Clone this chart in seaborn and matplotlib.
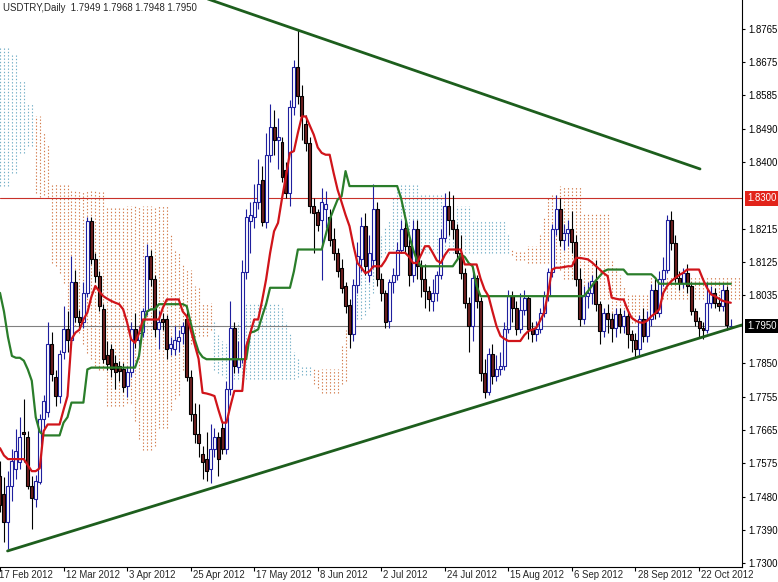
import numpy as np
import pandas as pd
import matplotlib
matplotlib.use("Agg")
import matplotlib.pyplot as plt
import seaborn as sns

header = "USDTRY,Daily  1.7949 1.7968 1.7948 1.7950"

# daily candles, one per trading day starting 17 Feb 2012
opens = [
    1.7540, 1.7489, 1.7412, 1.7511, 1.7557, 1.7576, 1.7659, 1.7645, 1.7511, 1.7475,
    1.7521, 1.7694, 1.7713, 1.7900, 1.7809, 1.7757, 1.7878, 1.7941, 1.7913, 1.8070,
    1.7976, 1.7960, 1.8042, 1.8237, 1.8133, 1.8086, 1.7996, 1.7870, 1.7886, 1.7850,
    1.7840, 1.7831, 1.7785, 1.7823, 1.7941, 1.7913, 1.7935, 1.7990, 1.8141, 1.8078,
    1.7941, 1.7970, 1.7968, 1.7890, 1.7886, 1.7910, 1.7930, 1.7968, 1.7809, 1.7708,
    1.7653, 1.7600, 1.7585, 1.7557, 1.7612, 1.7645, 1.7670, 1.7612, 1.7776, 1.7946,
    1.7837, 1.7859, 1.8097, 1.8237, 1.8250, 1.8290, 1.8350, 1.8235, 1.8420, 1.8497,
    1.8460, 1.8456, 1.8379, 1.8316, 1.8550, 1.8661, 1.8580, 1.8503, 1.8453, 1.8280,
    1.8264, 1.8240, 1.8270, 1.8250, 1.8190, 1.8150, 1.8110, 1.8060, 1.8009, 1.7927,
    1.8064, 1.8133, 1.8224, 1.8090, 1.8130, 1.8270, 1.8078, 1.8042, 1.7963, 1.8070,
    1.8090, 1.8160, 1.8220, 1.8170, 1.8090, 1.8215, 1.8114, 1.8078, 1.8045, 1.8020,
    1.8040, 1.8090, 1.8192, 1.8280, 1.8240, 1.8215, 1.8151, 1.8096, 1.8014, 1.7950,
    1.8083, 1.8018, 1.7822, 1.7768, 1.7873, 1.7813, 1.7831, 1.7840, 1.7941, 1.8032,
    1.8000, 1.7941, 1.7995, 1.8028, 1.7941, 1.7927, 1.7941, 1.7987, 1.8032, 1.8097,
    1.8215, 1.8270, 1.8187, 1.8205, 1.8215, 1.8180, 1.8078, 1.7968, 1.8032, 1.8042,
    1.8073, 1.8010, 1.7936, 1.7987, 1.7968, 1.7945, 1.7982, 1.7950, 1.7977, 1.7927,
    1.7913, 1.7886, 1.7968, 1.7923, 1.7968, 1.8050, 1.7987, 1.8078, 1.8105, 1.8242,
    1.8178, 1.8082, 1.8069, 1.8096, 1.8060, 1.7991, 1.7964, 1.7945, 1.7940, 1.8014,
    1.8042, 1.8014, 1.8005, 1.8050, 1.7949,
]
highs = [
    1.7580, 1.7535, 1.7552, 1.7612, 1.7667, 1.7700, 1.7749, 1.7661, 1.7538, 1.7541,
    1.7708, 1.7760, 1.7960, 1.7933, 1.7830, 1.7885, 1.8004, 1.7990, 1.8141, 1.8105,
    1.7995, 1.8070, 1.8248, 1.8250, 1.8150, 1.8100, 1.8010, 1.7910, 1.7900, 1.7870,
    1.7855, 1.7850, 1.7840, 1.7960, 1.7987, 1.7950, 1.8000, 1.8174, 1.8160, 1.8090,
    1.7990, 1.7985, 1.7980, 1.7920, 1.7950, 1.7940, 1.7960, 1.7990, 1.7830, 1.7740,
    1.7735, 1.7620, 1.7660, 1.7680, 1.7670, 1.7660, 1.7690, 1.7800, 1.8020, 1.7960,
    1.7910, 1.8130, 1.8270, 1.8290, 1.8340, 1.8407, 1.8390, 1.8480, 1.8560, 1.8544,
    1.8520, 1.8470, 1.8400, 1.8570, 1.8680, 1.8765, 1.8610, 1.8530, 1.8470, 1.8300,
    1.8270, 1.8330, 1.8320, 1.8270, 1.8220, 1.8165, 1.8135, 1.8070, 1.8025, 1.8080,
    1.8180, 1.8250, 1.8260, 1.8200, 1.8340, 1.8290, 1.8095, 1.8050, 1.8080, 1.8110,
    1.8180, 1.8240, 1.8240, 1.8190, 1.8240, 1.8240, 1.8130, 1.8120, 1.8060, 1.8080,
    1.8100, 1.8215, 1.8315, 1.8320, 1.8310, 1.8230, 1.8200, 1.8110, 1.8030, 1.8110,
    1.8090, 1.8030, 1.7860, 1.7890, 1.7900, 1.7870, 1.7880, 1.7960, 1.8050, 1.8045,
    1.8020, 1.8040, 1.8050, 1.8035, 1.7960, 1.7965, 1.8000, 1.8045, 1.8110, 1.8230,
    1.8310, 1.8300, 1.8230, 1.8240, 1.8265, 1.8200, 1.8110, 1.8060, 1.8070, 1.8090,
    1.8130, 1.8020, 1.8000, 1.8010, 1.7985, 1.8000, 1.8000, 1.7995, 1.7990, 1.7940,
    1.7930, 1.7980, 1.8000, 1.7990, 1.8065, 1.8080, 1.8100, 1.8140, 1.8255, 1.8265,
    1.8200, 1.8100, 1.8110, 1.8120, 1.8070, 1.8000, 1.7975, 1.7960, 1.8070, 1.8060,
    1.8055, 1.8030, 1.8065, 1.8060, 1.7968,
]
lows = [
    1.7440, 1.7357, 1.7338, 1.7470, 1.7530, 1.7557, 1.7576, 1.7502, 1.7393, 1.7453,
    1.7516, 1.7670, 1.7700, 1.7800, 1.7730, 1.7740, 1.7860, 1.7880, 1.7900, 1.7960,
    1.7940, 1.7945, 1.8030, 1.8120, 1.8070, 1.7990, 1.7850, 1.7830, 1.7810, 1.7776,
    1.7800, 1.7768, 1.7755, 1.7810, 1.7890, 1.7880, 1.7920, 1.7980, 1.8060, 1.7920,
    1.7886, 1.7940, 1.7860, 1.7870, 1.7870, 1.7880, 1.7900, 1.7800, 1.7690, 1.7630,
    1.7590, 1.7530, 1.7525, 1.7520, 1.7590, 1.7540, 1.7600, 1.7600, 1.7760, 1.7820,
    1.7820, 1.7850, 1.8080, 1.8150, 1.8220, 1.8270, 1.8225, 1.8220, 1.8400, 1.8420,
    1.8380, 1.8345, 1.8300, 1.8280, 1.8530, 1.8560, 1.8460, 1.8430, 1.8260, 1.8150,
    1.8210, 1.8075, 1.8220, 1.8170, 1.8130, 1.8085, 1.8040, 1.7985, 1.7890, 1.7910,
    1.8040, 1.8100, 1.8090, 1.8070, 1.8110, 1.8060, 1.8020, 1.7945, 1.7945, 1.8040,
    1.8075, 1.8150, 1.8150, 1.8060, 1.8070, 1.8080, 1.8030, 1.8000, 1.7990, 1.7990,
    1.8020, 1.8080, 1.8180, 1.8200, 1.8190, 1.8130, 1.8080, 1.8000, 1.7880, 1.7910,
    1.8000, 1.7800, 1.7752, 1.7760, 1.7790, 1.7800, 1.7815, 1.7830, 1.7930, 1.7960,
    1.7925, 1.7930, 1.7980, 1.7915, 1.7905, 1.7910, 1.7930, 1.7975, 1.8020, 1.8085,
    1.8200, 1.8170, 1.8160, 1.8170, 1.8150, 1.8060, 1.7950, 1.7955, 1.8000, 1.8010,
    1.7990, 1.7900, 1.7920, 1.7930, 1.7905, 1.7920, 1.7930, 1.7930, 1.7890, 1.7880,
    1.7865, 1.7870, 1.7905, 1.7905, 1.7950, 1.7970, 1.7975, 1.8060, 1.8095, 1.8160,
    1.8070, 1.8050, 1.8055, 1.8040, 1.7980, 1.7950, 1.7920, 1.7915, 1.7930, 1.8000,
    1.8000, 1.7990, 1.7990, 1.7940, 1.7948,
]
closes = [
    1.7460, 1.7412, 1.7511, 1.7579, 1.7606, 1.7645, 1.7653, 1.7511, 1.7478, 1.7524,
    1.7694, 1.7745, 1.7900, 1.7818, 1.7757, 1.7872, 1.7941, 1.7913, 1.8072, 1.7976,
    1.7960, 1.8042, 1.8237, 1.8133, 1.8086, 1.8004, 1.7859, 1.7845, 1.7831, 1.7823,
    1.7826, 1.7782, 1.7823, 1.7941, 1.7913, 1.7930, 1.7990, 1.8141, 1.8078, 1.7941,
    1.7960, 1.7960, 1.7886, 1.7900, 1.7913, 1.7920, 1.7950, 1.7809, 1.7708, 1.7653,
    1.7630, 1.7578, 1.7552, 1.7612, 1.7645, 1.7585, 1.7612, 1.7776, 1.7946, 1.7840,
    1.7859, 1.8097, 1.8250, 1.8255, 1.8290, 1.8340, 1.8235, 1.8420, 1.8497, 1.8461,
    1.8470, 1.8360, 1.8316, 1.8550, 1.8661, 1.8580, 1.8525, 1.8453, 1.8278, 1.8260,
    1.8228, 1.8290, 1.8285, 1.8187, 1.8150, 1.8100, 1.8055, 1.8004, 1.7927, 1.8064,
    1.8141, 1.8224, 1.8114, 1.8150, 1.8270, 1.8078, 1.8042, 1.7960, 1.8070, 1.8090,
    1.8160, 1.8215, 1.8170, 1.8090, 1.8215, 1.8114, 1.8078, 1.8045, 1.8023, 1.8040,
    1.8090, 1.8192, 1.8280, 1.8240, 1.8215, 1.8151, 1.8096, 1.8014, 1.7950, 1.8083,
    1.8018, 1.7822, 1.7768, 1.7873, 1.7813, 1.7831, 1.7840, 1.7941, 1.8032, 1.8000,
    1.7941, 1.7995, 1.8028, 1.7941, 1.7927, 1.7941, 1.7987, 1.8032, 1.8097, 1.8215,
    1.8270, 1.8187, 1.8205, 1.8215, 1.8180, 1.8078, 1.7968, 1.8032, 1.8042, 1.8073,
    1.8010, 1.7936, 1.7987, 1.7968, 1.7945, 1.7982, 1.7950, 1.7977, 1.7927, 1.7913,
    1.7886, 1.7968, 1.7923, 1.7968, 1.8050, 1.7987, 1.8078, 1.8105, 1.8242, 1.8178,
    1.8082, 1.8069, 1.8096, 1.8060, 1.7991, 1.7964, 1.7945, 1.7940, 1.8014, 1.8042,
    1.8014, 1.8005, 1.8050, 1.7952, 1.7950,
]

# ichimoku lines
tenkan = [
    1.7615, 1.7595, 1.7585, 1.7585, 1.7585, 1.7585, 1.7585, 1.7568, 1.7552, 1.7552,
    1.7560, 1.7662, 1.7680, 1.7680, 1.7680, 1.7680, 1.7720, 1.7758, 1.7914, 1.7932,
    1.7940, 1.7968, 1.7987, 1.8030, 1.8060, 1.8045, 1.8032, 1.8025, 1.8019, 1.8014,
    1.8010, 1.7996, 1.7960, 1.7914, 1.7904, 1.7930, 1.7968, 1.7968, 1.7968, 1.7968,
    1.7968, 1.8000, 1.8023, 1.8023, 1.8023, 1.8023, 1.7990, 1.7977, 1.7940, 1.7900,
    1.7860, 1.7767, 1.7765, 1.7762, 1.7758, 1.7720, 1.7685, 1.7685, 1.7730, 1.7772,
    1.7772, 1.7772, 1.7895, 1.7930, 1.7968, 1.7968, 1.8020, 1.8078, 1.8150, 1.8210,
    1.8233, 1.8300, 1.8361, 1.8425, 1.8430, 1.8480, 1.8525, 1.8525, 1.8500, 1.8475,
    1.8440, 1.8425, 1.8420, 1.8420, 1.8370, 1.8324, 1.8290, 1.8255, 1.8224, 1.8170,
    1.8123, 1.8110, 1.8095, 1.8100, 1.8114, 1.8114, 1.8114, 1.8130, 1.8151, 1.8151,
    1.8151, 1.8151, 1.8151, 1.8140, 1.8123, 1.8123, 1.8145, 1.8169, 1.8169, 1.8150,
    1.8130, 1.8123, 1.8145, 1.8160, 1.8160, 1.8160, 1.8160, 1.8119, 1.8119, 1.8119,
    1.8119, 1.8080, 1.8050, 1.8032, 1.7990, 1.7950, 1.7923, 1.7915, 1.7909, 1.7909,
    1.7909, 1.7909, 1.7925, 1.7936, 1.7940, 1.7945, 1.7965, 1.7987, 1.8041, 1.8105,
    1.8110, 1.8110, 1.8112, 1.8114, 1.8114, 1.8137, 1.8137, 1.8135, 1.8133, 1.8125,
    1.8115, 1.8105, 1.8095, 1.8087, 1.8028, 1.8025, 1.8023, 1.8023, 1.7995, 1.7973,
    1.7965, 1.7960, 1.7959, 1.7965, 1.7977, 1.7985, 1.7996, 1.8041, 1.8060, 1.8073,
    1.8082, 1.8090, 1.8096, 1.8105, 1.8105, 1.8105, 1.8105, 1.8078, 1.8055, 1.8037,
    1.8032, 1.8025, 1.8019, 1.8016, 1.8014,
]
kijun = [
    1.8041, 1.7990, 1.7920, 1.7868, 1.7863, 1.7863, 1.7855, 1.7831, 1.7800, 1.7700,
    1.7660, 1.7650, 1.7650, 1.7650, 1.7650, 1.7650, 1.7685, 1.7700, 1.7740, 1.7740,
    1.7740, 1.7740, 1.7831, 1.7836, 1.7836, 1.7836, 1.7836, 1.7836, 1.7836, 1.7836,
    1.7836, 1.7836, 1.7836, 1.7836, 1.7836, 1.7868, 1.7950, 1.7990, 1.7996, 1.7996,
    1.8010, 1.8010, 1.8010, 1.8010, 1.8010, 1.8010, 1.8010, 1.8005, 1.7960, 1.7914,
    1.7880, 1.7865, 1.7859, 1.7859, 1.7859, 1.7859, 1.7859, 1.7859, 1.7859, 1.7859,
    1.7859, 1.7859, 1.7859, 1.7932, 1.7935, 1.7941, 1.7977, 1.8010, 1.8055, 1.8055,
    1.8055, 1.8055, 1.8055, 1.8055, 1.8100, 1.8160, 1.8160, 1.8160, 1.8160, 1.8160,
    1.8160, 1.8160, 1.8200, 1.8242, 1.8270, 1.8297, 1.8306, 1.8375, 1.8334, 1.8334,
    1.8334, 1.8334, 1.8334, 1.8334, 1.8334, 1.8334, 1.8334, 1.8334, 1.8334, 1.8334,
    1.8334, 1.8300, 1.8250, 1.8200, 1.8160, 1.8130, 1.8114, 1.8114, 1.8114, 1.8114,
    1.8114, 1.8114, 1.8114, 1.8114, 1.8114, 1.8130, 1.8146, 1.8140, 1.8123, 1.8114,
    1.8060, 1.8032, 1.8032, 1.8032, 1.8032, 1.8032, 1.8032, 1.8032, 1.8032, 1.8032,
    1.8032, 1.8032, 1.8032, 1.8032, 1.8032, 1.8032, 1.8032, 1.8032, 1.8032, 1.8032,
    1.8032, 1.8032, 1.8032, 1.8032, 1.8032, 1.8032, 1.8032, 1.8032, 1.8045, 1.8060,
    1.8075, 1.8087, 1.8100, 1.8105, 1.8105, 1.8105, 1.8105, 1.8105, 1.8092, 1.8092,
    1.8092, 1.8092, 1.8092, 1.8092, 1.8092, 1.8082, 1.8066, 1.8066, 1.8066, 1.8066,
    1.8066, 1.8066, 1.8066, 1.8066, 1.8066, 1.8066, 1.8066, 1.8066, 1.8066, 1.8066,
    1.8066, 1.8066, 1.8066, 1.8066, 1.8066,
]
# cloud (already shifted forward), one column per bar
span_a = [
    1.8713, 1.8713, 1.8713, 1.8700, 1.8700, 1.8626, 1.8626, 1.8560, 1.8560, 1.8315,
    1.8305, 1.8310, 1.8305, 1.8123, 1.8114, 1.8095, 1.8069, 1.7987, 1.7968, 1.7950,
    1.7930, 1.7900, 1.7877, 1.7860, 1.7840, 1.7830, 1.7830, 1.7730, 1.7730, 1.7730,
    1.7730, 1.7730, 1.7740, 1.7740, 1.7690, 1.7640, 1.7610, 1.7610, 1.7610, 1.7620,
    1.7670, 1.7670, 1.7670, 1.7720, 1.7750, 1.7760, 1.7830, 1.7880, 1.7900, 1.7920,
    1.7923, 1.7923, 1.7923, 1.7940, 1.7960, 1.7932, 1.7910, 1.7900, 1.7920, 1.7940,
    1.7960, 1.7990, 1.8014, 1.8014, 1.8014, 1.8014, 1.8014, 1.8014, 1.8014, 1.8014,
    1.8014, 1.8000, 1.7960, 1.7930, 1.7880, 1.7860, 1.7840, 1.7840, 1.7840, 1.7790,
    1.7780, 1.7767, 1.7767, 1.7767, 1.7767, 1.7767, 1.7790, 1.7800, 1.8000, 1.8050,
    1.8080, 1.8100, 1.8130, 1.8150, 1.8170, 1.8197, 1.8197, 1.8220, 1.8242, 1.8300,
    1.8343, 1.8343, 1.8343, 1.8343, 1.8343, 1.8343, 1.8315, 1.8315, 1.8315, 1.8315,
    1.8315, 1.8315, 1.8315, 1.8280, 1.8280, 1.8280, 1.8280, 1.8280, 1.8280, 1.8242,
    1.8242, 1.8242, 1.8242, 1.8242, 1.8242, 1.8242, 1.8242, 1.8242, 1.8200, 1.8145,
    1.8130, 1.8130, 1.8130, 1.8123, 1.8123, 1.8123, 1.8123, 1.8123, 1.8123, 1.8123,
    1.8123, 1.8105, 1.8080, 1.8080, 1.8080, 1.8080, 1.8080, 1.8023, 1.8023, 1.8023,
    1.8023, 1.8023, 1.8023, 1.8023, 1.7968, 1.7968, 1.7968, 1.7968, 1.7959, 1.7959,
    1.7959, 1.7959, 1.7959, 1.7959, 1.8023, 1.8023, 1.8023, 1.8023, 1.8023, 1.8023,
    1.8023, 1.8023, 1.8023, 1.8023, 1.8023, 1.8023, 1.8023, 1.8023, 1.8023, 1.8023,
    1.8023, 1.8023, 1.8023, 1.8023, 1.8023, 1.8023, 1.8023,
]
span_b = [
    1.8333, 1.8333, 1.8333, 1.8370, 1.8370, 1.8425, 1.8425, 1.8445, 1.8445, 1.8525,
    1.8525, 1.8480, 1.8450, 1.8343, 1.8343, 1.8343, 1.8343, 1.8343, 1.8320, 1.8320,
    1.8320, 1.8320, 1.8320, 1.8320, 1.8320, 1.8320, 1.8320, 1.8280, 1.8280, 1.8280,
    1.8280, 1.8280, 1.8280, 1.8280, 1.8280, 1.8280, 1.8280, 1.8280, 1.8280, 1.8280,
    1.8280, 1.8280, 1.8280, 1.8200, 1.8160, 1.8150, 1.8120, 1.8105, 1.8105, 1.8060,
    1.8060, 1.8014, 1.8014, 1.8014, 1.7830, 1.7822, 1.7815, 1.7808, 1.7808, 1.7804,
    1.7804, 1.7804, 1.7804, 1.7804, 1.7804, 1.7804, 1.7804, 1.7804, 1.7804, 1.7804,
    1.7804, 1.7804, 1.7804, 1.7804, 1.7804, 1.7810, 1.7815, 1.7815, 1.7815, 1.7831,
    1.7831, 1.7831, 1.7831, 1.7831, 1.7831, 1.7831, 1.7900, 1.7940, 1.7960, 1.7960,
    1.7968, 1.7970, 1.7980, 1.8000, 1.8040, 1.8100, 1.8140, 1.8151, 1.8151, 1.8151,
    1.8151, 1.8151, 1.8151, 1.8151, 1.8151, 1.8151, 1.8151, 1.8151, 1.8151, 1.8151,
    1.8151, 1.8151, 1.8151, 1.8151, 1.8151, 1.8151, 1.8151, 1.8151, 1.8151, 1.8151,
    1.8151, 1.8151, 1.8151, 1.8151, 1.8151, 1.8151, 1.8151, 1.8151, 1.8151, 1.8160,
    1.8160, 1.8160, 1.8160, 1.8170, 1.8170, 1.8170, 1.8200, 1.8250, 1.8300, 1.8310,
    1.8310, 1.8334, 1.8334, 1.8334, 1.8334, 1.8334, 1.8334, 1.8260, 1.8260, 1.8260,
    1.8260, 1.8260, 1.8260, 1.8260, 1.8133, 1.8110, 1.8090, 1.8060, 1.8041, 1.8041,
    1.8041, 1.8041, 1.8041, 1.8041, 1.8087, 1.8087, 1.8087, 1.8087, 1.8087, 1.8087,
    1.8087, 1.8087, 1.8087, 1.8087, 1.8087, 1.8087, 1.8087, 1.8087, 1.8087, 1.8087,
    1.8087, 1.8087, 1.8087, 1.8087, 1.8087, 1.8087, 1.8087,
]

date_ticks = [0, 16, 32, 48, 64, 80, 96, 112, 128, 144, 160, 176]
date_labels = ["17 Feb 2012", "12 Mar 2012", "3 Apr 2012", "25 Apr 2012",
               "17 May 2012", "8 Jun 2012", "2 Jul 2012", "24 Jul 2012",
               "15 Aug 2012", "6 Sep 2012", "28 Sep 2012", "22 Oct 2012"]
price_ticks = [1.7300, 1.7390, 1.7480, 1.7575, 1.7665, 1.7755, 1.7850, 1.8035,
               1.8125, 1.8215, 1.8400, 1.8490, 1.8585, 1.8675, 1.8765]
resistance = 1.8300
bid = 1.7950
upper_trend_x = [50.0, 176.25]
upper_trend_y = [1.8856, 1.8381]
lower_trend_x = [1.9, 186.8]
lower_trend_y = [1.7333, 1.7953]

sns.set_theme(style="white")
plt.rcParams["font.family"] = ["Liberation Sans", "DejaVu Sans"]
FS = 6.9

df = pd.DataFrame({"open": opens, "high": highs, "low": lows, "close": closes,
                   "tenkan": tenkan, "kijun": kijun})
df["bar"] = np.arange(len(df))
up = df["close"] >= df["open"]

fig = plt.figure(figsize=(7.78, 5.82), dpi=100)
ax = fig.add_axes([0, 15 / 582, 742 / 778, 567 / 582])

# kumo as dotted columns
cb = np.arange(len(span_a))
sa = np.array(span_a)
sb = np.array(span_b)
lo = np.minimum(sa, sb)
hi = np.maximum(sa, sb)
bull = sa > sb
dots = (0, (1.2, 1.8))
ax.vlines(cb[bull], lo[bull], hi[bull], colors="#72aec6", linestyles=dots, linewidth=0.8, zorder=1)
ax.vlines(cb[~bull], lo[~bull], hi[~bull], colors="#d27a4a", linestyles=dots, linewidth=0.8, zorder=1)

ax.axhline(resistance, color="#c8312a", lw=0.8, zorder=1.5)
ax.axhline(bid, color="#808080", lw=0.8, zorder=1.5)

# candles
ax.vlines(df.loc[up, "bar"], df.loc[up, "low"], df.loc[up, "high"], color="#1f1f9e", lw=0.8, zorder=2)
ax.vlines(df.loc[~up, "bar"], df.loc[~up, "low"], df.loc[~up, "high"], color="black", lw=0.8, zorder=2)
body = (df["close"] - df["open"]).abs().clip(lower=0.00008)
ax.bar(df.loc[up, "bar"], body[up], bottom=df.loc[up, "open"], width=0.75,
       color="white", edgecolor="#1f1f9e", linewidth=0.8, zorder=3)
ax.bar(df.loc[~up, "bar"], body[~up], bottom=df.loc[~up, "close"], width=0.75,
       color="#6e1f1f", edgecolor="black", linewidth=0.8, zorder=3)

sns.lineplot(data=df, x="bar", y="kijun", ax=ax, color="#2a7d2a", lw=1.6, zorder=4)
sns.lineplot(data=df, x="bar", y="tenkan", ax=ax, color="#d0141a", lw=1.6, zorder=4)
sns.lineplot(x=upper_trend_x, y=upper_trend_y, ax=ax, color="#1d5e1d", lw=2.0, zorder=5)
sns.lineplot(x=lower_trend_x, y=lower_trend_y, ax=ax, color="#1d5e1d", lw=2.0, zorder=5)

ax.set_xlim(0.15, 186.82)
ax.set_ylim(1.72890, 1.88445)
ax.set_xlabel("")
ax.set_ylabel("")

for s in ["left", "top"]:
    ax.spines[s].set_visible(False)
for s in ["right", "bottom"]:
    ax.spines[s].set_color("black")
    ax.spines[s].set_linewidth(0.8)

ax.yaxis.tick_right()
ax.set_yticks(price_ticks)
ax.set_yticklabels([f"{v:.4f}" for v in price_ticks])
ax.tick_params(axis="y", length=2.5, width=0.8, pad=2, labelsize=FS, colors="black", right=True, left=False)

ax.set_xticks(date_ticks)
ax.set_xticklabels([""] * len(date_ticks))
ax.tick_params(axis="x", length=3, width=0.8, bottom=True, colors="black")
for t, lab in zip(date_ticks, date_labels):
    dx = 1.5 if t > 0 else -1.0
    ax.annotate(lab, xy=(t, 0), xycoords=("data", "axes fraction"),
                xytext=(dx, -2.5), textcoords="offset points",
                ha="left", va="top", fontsize=FS, annotation_clip=False)

box = dict(boxstyle="square,pad=0.25", ec="none")
ax.text(1.0 + 5 / 742, resistance, f"{resistance:.4f}", transform=ax.get_yaxis_transform(),
        ha="left", va="center", fontsize=FS, color="white", clip_on=False,
        bbox={**box, "fc": "#e2231a"})
ax.text(1.0 + 5 / 742, bid, f"{bid:.4f}", transform=ax.get_yaxis_transform(),
        ha="left", va="center", fontsize=FS, color="white", clip_on=False,
        bbox={**box, "fc": "black"})

fig.text(3 / 778, 1 - 8 / 582, header, ha="left", va="center", fontsize=FS)

fig.savefig("out.png", dpi=100)
